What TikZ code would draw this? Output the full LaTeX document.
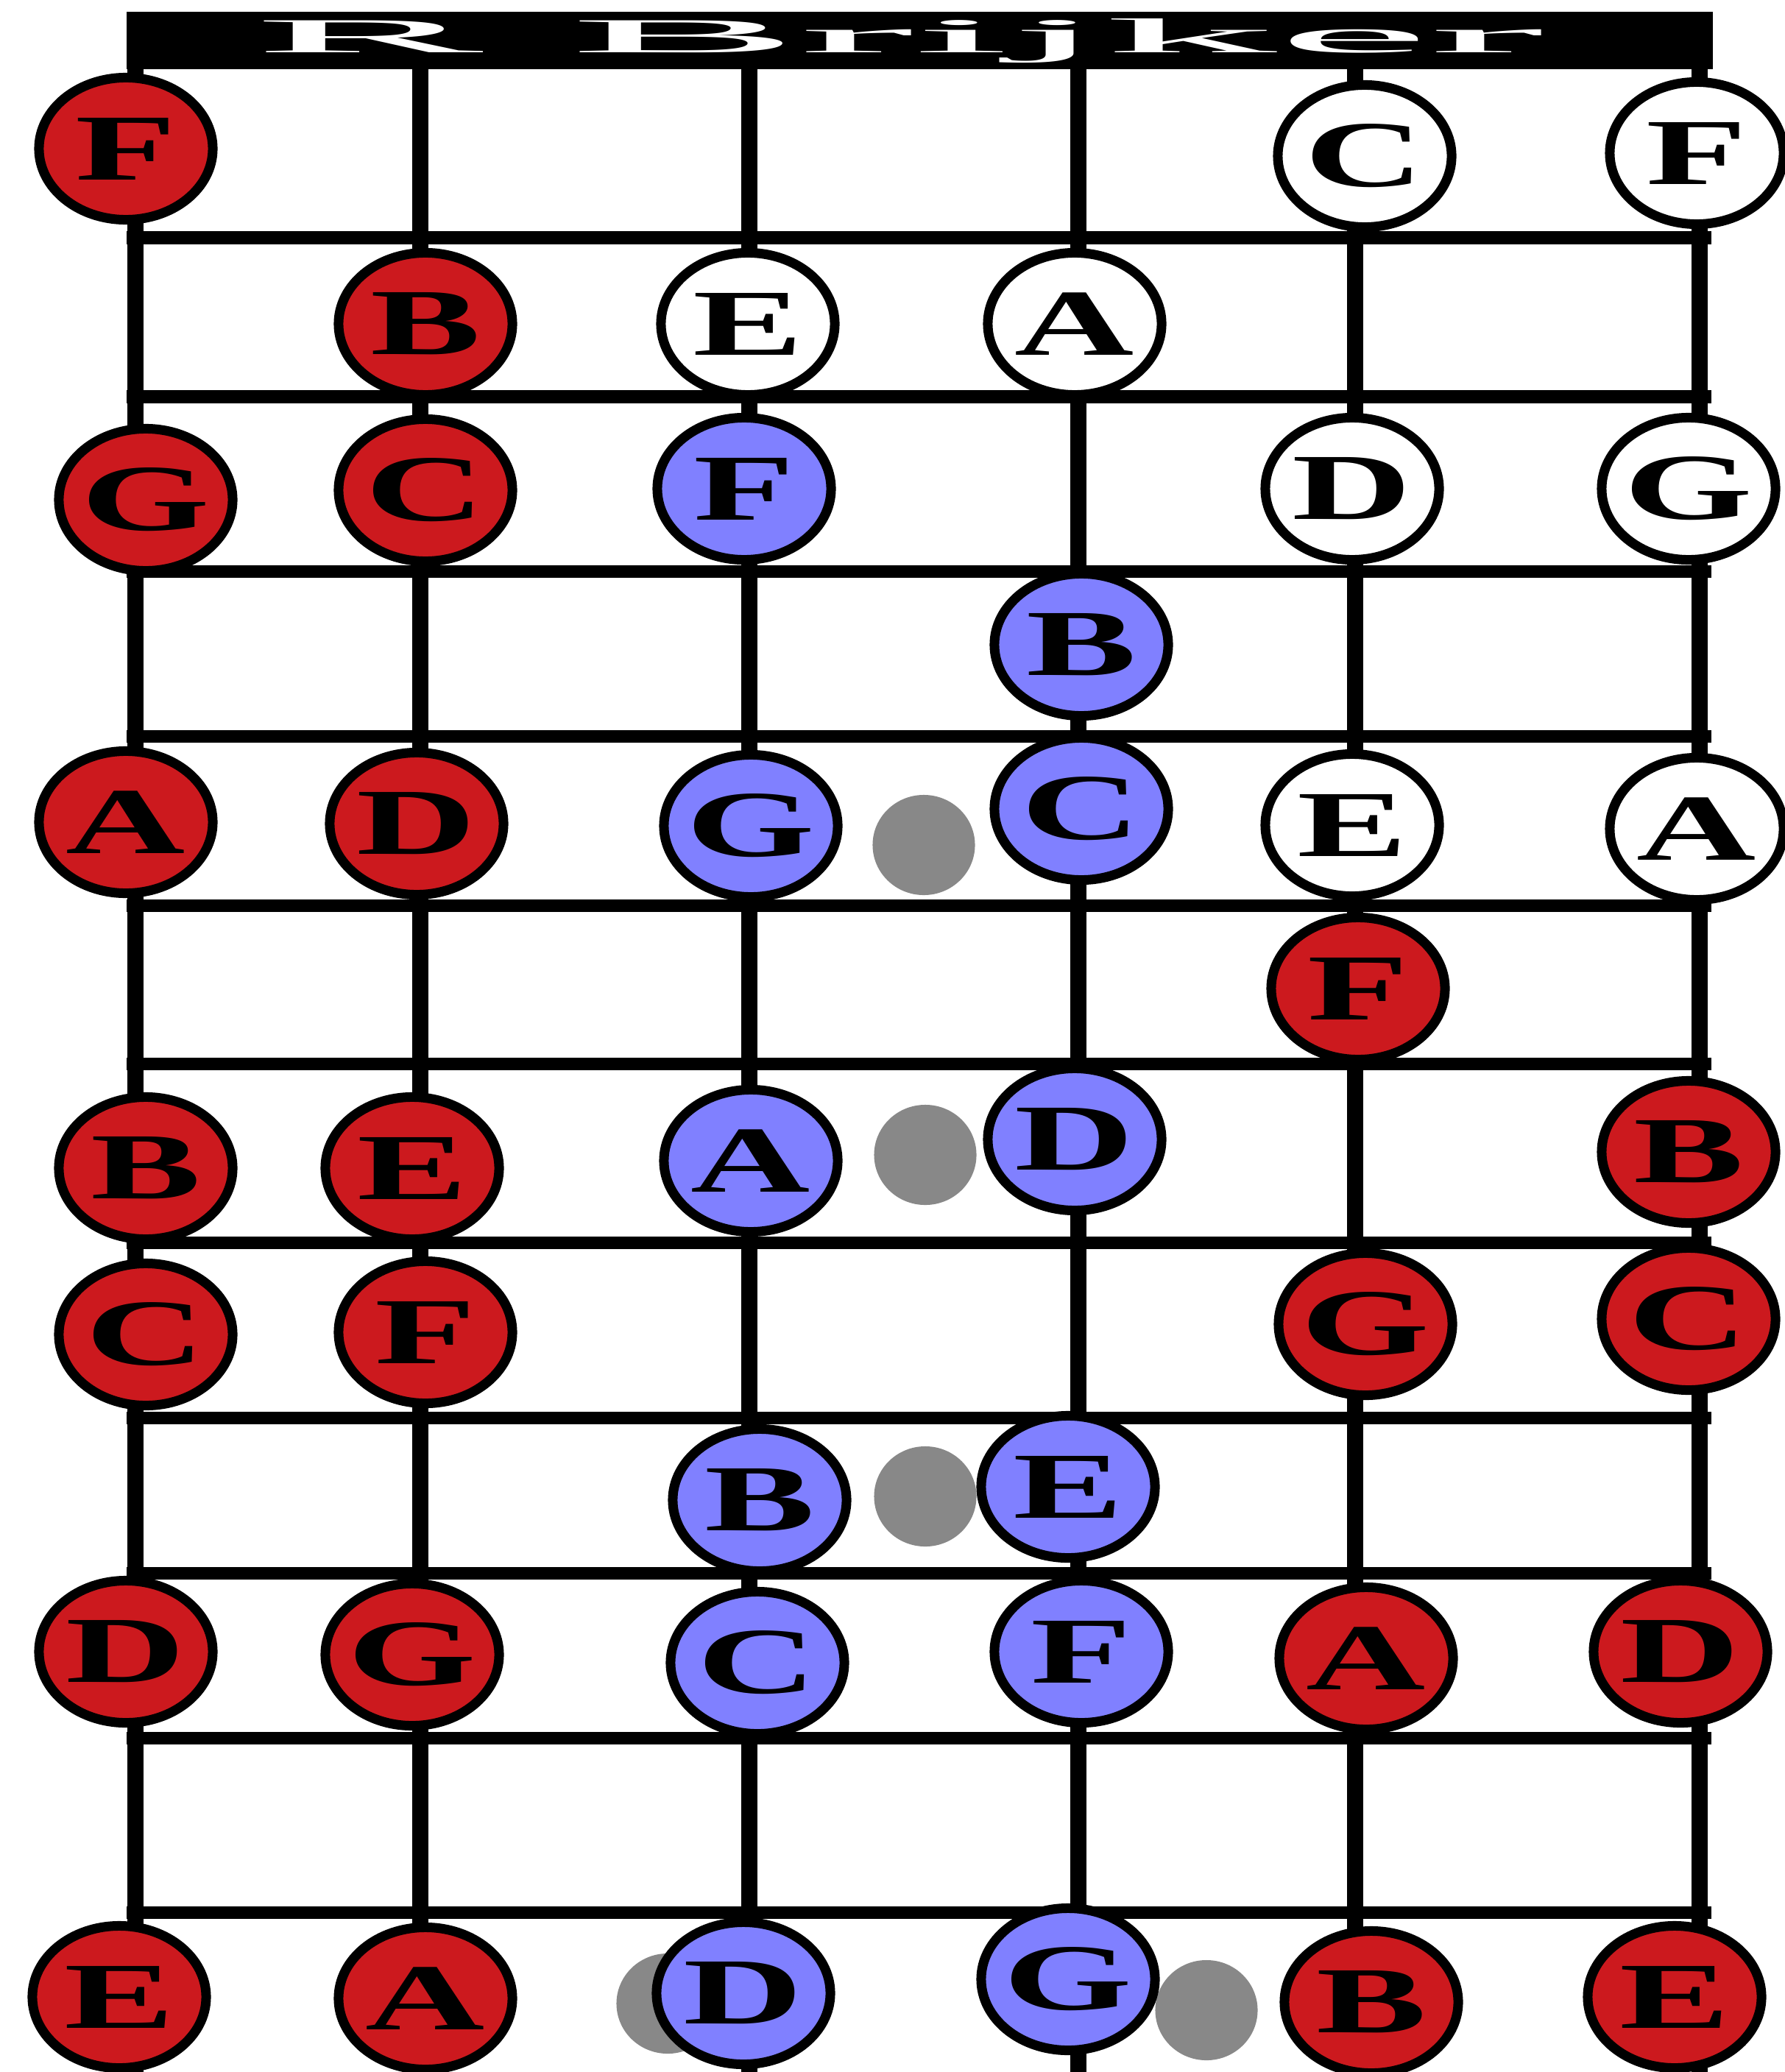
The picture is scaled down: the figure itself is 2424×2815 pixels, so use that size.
\documentclass[tikz,border=0pt]{standalone}
\usepackage{fontspec}
\setmainfont{Liberation Serif}
\usetikzlibrary{shapes.geometric}
\definecolor{nred}{RGB}{204,25,30}
\definecolor{nblue}{RGB}{128,128,255}
\definecolor{dotgray}{RGB}{136,136,136}
\newcommand\notelbl[1]{\makebox[0pt]{\scalebox{1.75}[1]{#1}}}
\tikzset{
  note/.style={ellipse, draw=black, line width=0.13cm, minimum width=2.36cm, minimum height=1.93cm, inner sep=0pt, font=\fontsize{36.5}{40}\selectfont\bfseries},
  rednote/.style={note, fill=nred},
  bluenote/.style={note, fill=nblue},
  whitenote/.style={note, fill=white},
  graydot/.style={ellipse, fill=dotgray, minimum width=1.39cm, minimum height=1.36cm, inner sep=0pt},
  stringline/.style={line width=0.22cm, black},
  fretline/.style={line width=0.17cm, black},
}
\begin{document}
\begin{tikzpicture}[x=0.01cm, y=-0.01cm]
\useasboundingbox (0,0) rectangle (2424,2815);
% strings
\foreach \i/\sx in {1/184, 2/571, 3/1018, 4/1465, 5/1841, 6/2309} {
  \coordinate (s\i t) at (\sx,94);
  \coordinate (s\i b) at (\sx,2815);
  \draw[stringline] (s\i t) -- (s\i b);
}
% frets
\foreach \j/\fy in {1/323, 2/539, 3/776, 4/1000, 5/1230, 6/1445, 7/1688, 8/1926, 9/2137, 10/2361, 11/2598} {
  \coordinate (f\j l) at (172,\fy);
  \coordinate (f\j r) at (2325,\fy);
  \draw[fretline] (f\j l) -- (f\j r);
}
% header
\fill[black] (172,16) rectangle (2327,94);
\node[anchor=base, text=white, inner sep=0pt] (title) at (1222,72) {\resizebox{17.5cm}{0.46cm}{R Brijker}};
% gray dots
\node[graydot] (g1) at (1255,1148) {};
\node[graydot] (g2) at (1257,1569) {};
\node[graydot] (g3) at (1257,2033) {};
\node[graydot] (g4) at (907,2722) {};
\node[graydot] (g5) at (1639,2731) {};
% row 0
\node[rednote] (r0a) at (171,202) {\notelbl{F}};
\node[whitenote] (r0b) at (1854,212) {\notelbl{C}};
\node[whitenote] (r0c) at (2305,208) {\notelbl{F}};
% row 1
\node[rednote] (r1a) at (578,440) {\notelbl{B}};
\node[whitenote] (r1b) at (1016,440) {\notelbl{E}};
\node[whitenote] (r1c) at (1460,440) {\notelbl{A}};
% row 2
\node[rednote] (r2a) at (198,679) {\notelbl{G}};
\node[rednote] (r2b) at (578,666) {\notelbl{C}};
\node[bluenote] (r2c) at (1011,664) {\notelbl{F}};
\node[whitenote] (r2d) at (1837,664) {\notelbl{D}};
\node[whitenote] (r2e) at (2294,664) {\notelbl{G}};
% row 3
\node[bluenote] (r3a) at (1469,876) {\notelbl{B}};
% row 4
\node[rednote] (r4a) at (171,1117) {\notelbl{A}};
\node[rednote] (r4b) at (566,1119) {\notelbl{D}};
\node[bluenote] (r4c) at (1020,1122) {\notelbl{G}};
\node[bluenote] (r4d) at (1469,1099) {\notelbl{C}};
\node[whitenote] (r4e) at (1837,1121) {\notelbl{E}};
\node[whitenote] (r4f) at (2305,1126) {\notelbl{A}};
% row 5
\node[rednote] (r5a) at (1845,1343) {\notelbl{F}};
% row 6
\node[rednote] (r6a) at (198,1587) {\notelbl{B}};
\node[rednote] (r6b) at (560,1587) {\notelbl{E}};
\node[bluenote] (r6c) at (1020,1577) {\notelbl{A}};
\node[bluenote] (r6d) at (1460,1548) {\notelbl{D}};
\node[rednote] (r6e) at (2294,1565) {\notelbl{B}};
% row 7
\node[rednote] (r7a) at (198,1813) {\notelbl{C}};
\node[rednote] (r7b) at (578,1810) {\notelbl{F}};
\node[rednote] (r7c) at (1855,1799) {\notelbl{G}};
\node[rednote] (r7d) at (2294,1792) {\notelbl{C}};
% row 8
\node[bluenote] (r8a) at (1032,2038) {\notelbl{B}};
\node[bluenote] (r8b) at (1451,2020) {\notelbl{E}};
% row 9
\node[rednote] (r9a) at (171,2244) {\notelbl{D}};
\node[rednote] (r9b) at (560,2248) {\notelbl{G}};
\node[bluenote] (r9c) at (1029,2259) {\notelbl{C}};
\node[bluenote] (r9d) at (1469,2244) {\notelbl{F}};
\node[rednote] (r9e) at (1856,2253) {\notelbl{A}};
\node[rednote] (r9f) at (2283,2244) {\notelbl{D}};
% row 11
\node[rednote] (r11a) at (162,2713) {\notelbl{E}};
\node[rednote] (r11b) at (578,2715) {\notelbl{A}};
\node[bluenote] (r11c) at (1010,2708) {\notelbl{D}};
\node[bluenote] (r11d) at (1451,2689) {\notelbl{G}};
\node[rednote] (r11e) at (1863,2720) {\notelbl{B}};
\node[rednote] (r11f) at (2275,2713) {\notelbl{E}};
\end{tikzpicture}
\end{document}
